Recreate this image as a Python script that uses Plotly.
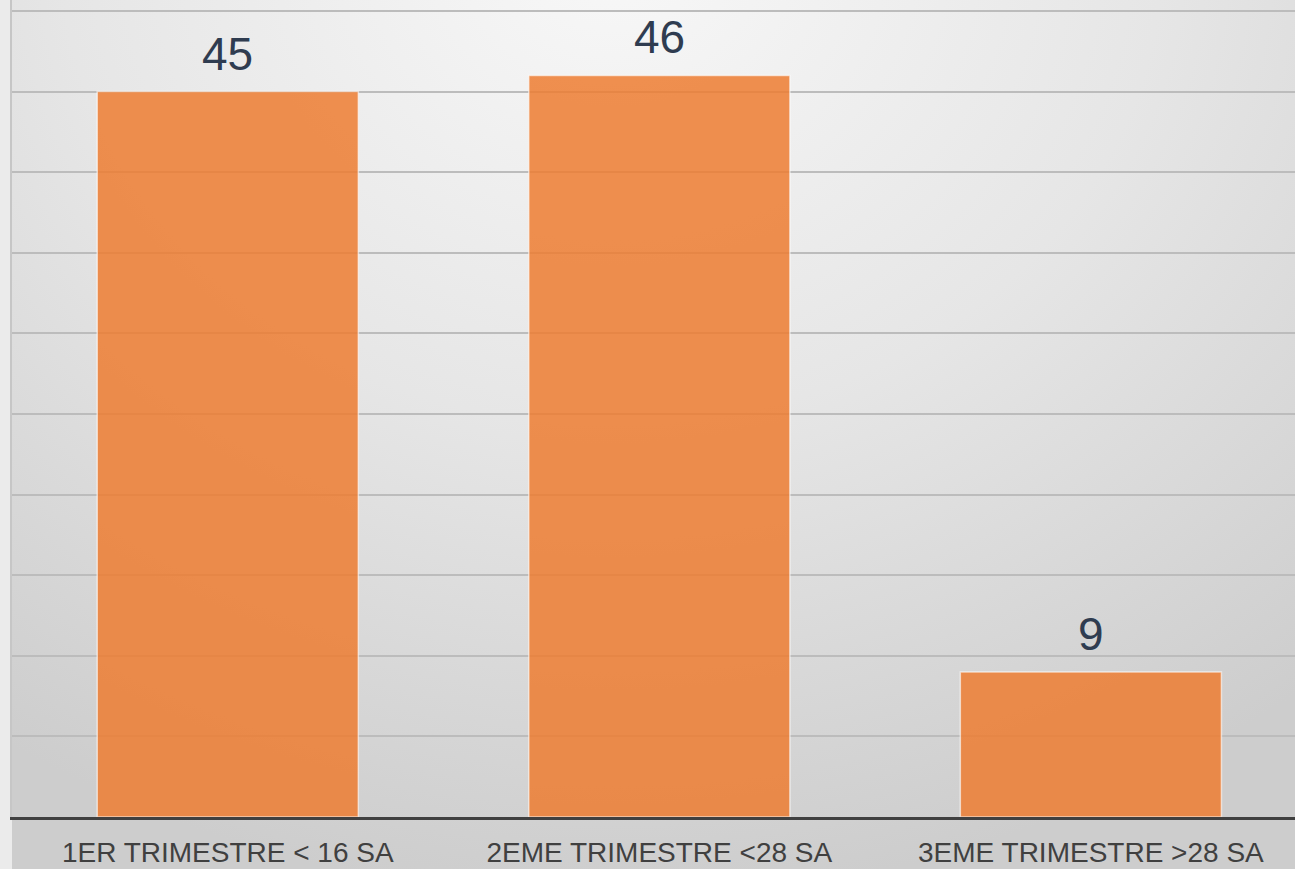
import urllib.parse
import plotly.graph_objs as go

categories = ['1ER TRIMESTRE < 16 SA', '2EME TRIMESTRE <28 SA', '3EME TRIMESTRE >28 SA']
values = [45, 46, 9]

# soft grey radial background, like the office chart style
svg = ('<svg xmlns="http://www.w3.org/2000/svg" width="1283" height="869" viewBox="0 0 1283 869" preserveAspectRatio="none">'
       '<defs><radialGradient id="g" gradientUnits="userSpaceOnUse" cx="0" cy="0" r="1" '
       'gradientTransform="translate(600,-50) scale(1100,950)">'
       '<stop offset="0" stop-color="#f8f8f8"/><stop offset="0.5" stop-color="#e6e6e6"/>'
       '<stop offset="1" stop-color="#cdcdcd"/></radialGradient></defs>'
       '<rect width="1283" height="869" fill="url(#g)"/></svg>')
bg_src = 'data:image/svg+xml;charset=utf-8,' + urllib.parse.quote(svg)

fig = go.Figure()
fig.add_trace(go.Bar(x=categories, y=values,
                     width=0.605,
                     marker=dict(color='rgba(237,125,49,0.85)',
                                 line=dict(color='rgba(255,255,255,0.6)', width=1.5)),
                     hoverinfo='x+y'))

for c, v in zip(categories, values):
    fig.add_annotation(x=c, y=v, text=str(v), showarrow=False,
                       yanchor='bottom', yshift=10,
                       font=dict(family='Liberation Sans', size=46, color='#2f3c50'))

fig.update_layout(width=1295, height=869,
                  margin=dict(l=12, r=0, t=0, b=52),
                  paper_bgcolor='#ebebeb',
                  plot_bgcolor='rgba(0,0,0,0)',
                  showlegend=False,
                  images=[dict(source=bg_src, xref='paper', yref='paper',
                               x=0, y=1, sizex=1, sizey=869 / 817,
                               xanchor='left', yanchor='top',
                               sizing='stretch', layer='below')],
                  xaxis=dict(range=[-0.5, 2.473], automargin=False,
                             showline=True, linecolor='#404040', linewidth=3,
                             showgrid=False, ticks='',
                             tickfont=dict(family='Liberation Sans', size=28, color='#404040'),
                             ticklabelstandoff=8),
                  yaxis=dict(range=[0, 50.68], dtick=5, automargin=False,
                             showticklabels=False, zeroline=False,
                             showgrid=True, gridcolor='#bcbcbc', gridwidth=1.5,
                             showline=True, linecolor='#c6c6c6', linewidth=2))

# drop the default page margin so the chart sits at the window corner
fig.write_html("out.html", config={'displayModeBar': False},
               post_script="document.body.style.margin='0';")
